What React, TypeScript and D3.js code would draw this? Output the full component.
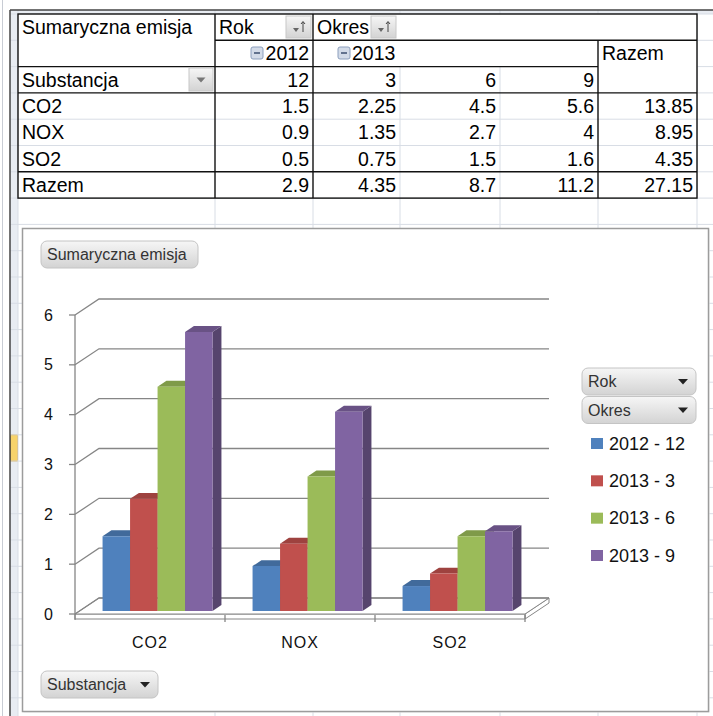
import * as d3 from 'd3';

// ── pivot data ──
const categories = ['CO2', 'NOX', 'SO2'];
const seriesLabels = ['2012 - 12', '2013 - 3', '2013 - 6', '2013 - 9'];
const periodLabels = ['12', '3', '6', '9'];
const s2012_12 = [1.5, 0.9, 0.5];
const s2013_3 = [2.25, 1.35, 0.75];
const s2013_6 = [4.5, 2.7, 1.5];
const s2013_9 = [5.6, 4, 1.6];
const rowTotals = [13.85, 8.95, 4.35];
const colTotals = [2.9, 4.35, 8.7, 11.2];
const grandTotal = 27.15;
const yTicks = [0, 1, 2, 3, 4, 5, 6];
const seriesColors = ['#4f81bd', '#c0504d', '#9bbb59', '#8064a2'];

const seriesValues = [s2012_12, s2013_3, s2013_6, s2013_9];

const W = 713, H = 716;
const FONT = '"Liberation Sans", Arial, sans-serif';

// sheet geometry
const colEdges = [18, 215, 313, 400, 500, 598, 697];
const rowTop = 14, rowH = 26.3;
const ry = (i: number) => rowTop + i * rowH;

// 3d depth offsets
const DX = 24, DY = 16;
const Z0 = 0.19, Z1 = 0.56;

function shade(c: string, k: number) {
  return d3.color(c)!.darker(k).formatHex();
}

function FieldButton({ x, y, w, h, label, arrow }: { x: number; y: number; w: number; h: number; label: string; arrow?: boolean }) {
  return (
    <g>
      <rect x={x} y={y} width={w} height={h} rx={6} fill="url(#btnGrad)" stroke="#c4c4c4" />
      <text x={x + 6} y={y + h / 2 + 5.5} fontSize={16} fill="#333">{label}</text>
      {arrow && (
        <path d={`M${x + w - 18},${y + h / 2 - 2.5}h10l-5,5.5z`} fill="#222" />
      )}
    </g>
  );
}

function SortButton({ x, y }: { x: number; y: number }) {
  return (
    <g>
      <rect x={x} y={y} width={25} height={22} fill="url(#btnGrad)" stroke="#c8c8c8" />
      <path d={`M${x + 7},${y + 12}h6l-3,4z`} fill="#666" />
      <path d={`M${x + 17},${y + 16}v-10M${x + 15},${y + 8}l2,-2.5l2,2.5`} stroke="#444" strokeWidth={1} fill="none" />
    </g>
  );
}

function MinusBox({ x, y }: { x: number; y: number }) {
  return (
    <g>
      <rect x={x} y={y} width={12} height={12} rx={2} fill="#d3dbe8" stroke="#8c9fbd" />
      <line x1={x + 3} x2={x + 9} y1={y + 6} y2={y + 6} stroke="#3d4f70" strokeWidth={1.5} />
    </g>
  );
}

function PivotTable() {
  const txt = (s: string | number, x: number, row: number, anchor = 'start') => (
    <text x={x} y={ry(row) + 20} textAnchor={anchor} fontSize={19.5}>{String(s)}</text>
  );
  const right = (ci: number) => colEdges[ci + 1] - 4;
  const dark = '#111';
  return (
    <g>
      <rect x={18} y={14} width={679} height={ry(7) - 14} fill="#fff" />
      {/* inner light lines */}
      {[4, 5].map(r => (
        <line key={r} x1={18} x2={697} y1={ry(r)} y2={ry(r)} stroke="#d8dde5" />
      ))}
      {[400, 500].map(x => (
        <line key={x} x1={x} x2={x} y1={ry(2)} y2={ry(7)} stroke="#d8dde5" />
      ))}
      {/* dark borders */}
      <g stroke={dark} strokeWidth={1.4}>
        <rect x={18} y={14} width={679} height={ry(7) - 14} fill="none" />
        <line x1={215} x2={697} y1={ry(1)} y2={ry(1)} />
        <line x1={18} x2={598} y1={ry(2)} y2={ry(2)} />
        <line x1={18} x2={697} y1={ry(3)} y2={ry(3)} />
        <line x1={18} x2={697} y1={ry(6)} y2={ry(6)} />
        <line x1={215} x2={215} y1={14} y2={ry(7)} />
        <line x1={313} x2={313} y1={14} y2={ry(7)} />
        <line x1={598} x2={598} y1={ry(1)} y2={ry(7)} />
      </g>
      {txt('Sumaryczna emisja', 22, 0)}
      {txt('Rok', 219, 0)}
      <SortButton x={286} y={16} />
      {txt('Okres', 317, 0)}
      <SortButton x={371} y={16} />
      <MinusBox x={251} y={47} />
      {txt('2012', right(1), 1, 'end')}
      <MinusBox x={338} y={47} />
      {txt('2013', 352, 1)}
      {txt('Razem', 602, 1)}
      {txt('Substancja', 22, 2)}
      <rect x={189} y={68} width={24} height={23} fill="url(#btnGrad)" stroke="#c8c8c8" />
      <path d="M196.5,77.5h9l-4.5,5z" fill="#777" />
      {periodLabels.map((p, i) => <g key={p}>{txt(p, right(i + 1), 2, 'end')}</g>)}
      {categories.map((c, ci) => (
        <g key={c}>
          {txt(c, 22, 3 + ci)}
          {seriesValues.map((s, si) => <g key={si}>{txt(s[ci], right(si + 1), 3 + ci, 'end')}</g>)}
          {txt(rowTotals[ci], right(5), 3 + ci, 'end')}
        </g>
      ))}
      {txt('Razem', 22, 6)}
      {colTotals.map((t, i) => <g key={i}>{txt(t, right(i + 1), 6, 'end')}</g>)}
      {txt(grandTotal, right(5), 6, 'end')}
    </g>
  );
}

function Chart() {
  const y = d3.scaleLinear().domain([0, 6]).range([614, 315]);
  const xCat = d3.scaleBand<string>().domain(categories).range([75, 525]).padding(0);
  const xSer = d3.scaleBand<number>().domain(d3.range(seriesLabels.length)).range([23, 133]).padding(0);
  const P = (x: number, v: number, z: number) => [x + z * DX, y(v) - z * DY];
  const pts = (arr: number[][]) => arr.map(p => p.join(',')).join(' ');

  const x0 = xCat.range()[0], x1 = xCat.range()[1];
  const grid = '#868686';

  const bars: JSX.Element[] = [];
  categories.forEach((c, ci) => {
    seriesValues.forEach((s, si) => {
      const v = s[ci];
      const bx0 = xCat(c)! + xSer(si)!;
      const bx1 = bx0 + xSer.bandwidth();
      const col = seriesColors[si];
      const fTL = P(bx0, v, Z0), fTR = P(bx1, v, Z0), fBR = P(bx1, 0, Z0), fBL = P(bx0, 0, Z0);
      const bTL = P(bx0, v, Z1), bTR = P(bx1, v, Z1), bBR = P(bx1, 0, Z1);
      bars.push(
        <g key={`${c}-${si}`}>
          <polygon points={pts([fTR, bTR, bBR, fBR])} fill={shade(col, 1.1)} />
          <polygon points={pts([fTL, fTR, bTR, bTL])} fill={shade(col, 0.55)} />
          <polygon points={pts([fTL, fTR, fBR, fBL])} fill={col} />
        </g>
      );
    });
  });

  const legendY = d3.scalePoint<string>().domain(seriesLabels).range([443, 555]);

  return (
    <g>
      <rect x={23.5} y={229.5} width={686} height={483} fill="#ececec" />
      <rect x={22.5} y={228.5} width={686} height={483} fill="#fff" stroke="#9c9c9c" strokeWidth={1.5} />
      <FieldButton x={41} y={241} w={157} h={27} label="Sumaryczna emisja" />

      {/* floor plate */}
      <polygon points={pts([P(x1, 0, 0), P(x1, 0, 1), [x1 + DX, y(0) - DY + 5], [x1, y(0) + 5]])} fill="#fff" stroke={grid} strokeWidth={1} />
      <polygon points={pts([P(x0, 0, 0), P(x1, 0, 0), [x1, y(0) + 5], [x0, y(0) + 5]])} fill="#fff" stroke={grid} strokeWidth={1} />
      <polygon points={pts([P(x0, 0, 0), P(x1, 0, 0), P(x1, 0, 1), P(x0, 0, 1)])} fill="#fff" stroke={grid} strokeWidth={1} />

      {/* walls gridlines */}
      {yTicks.map(t => (
        <g key={t}>
          <polyline points={pts([P(x0, t, 0), P(x0, t, 1), P(x1, t, 1)])} fill="none" stroke={grid} strokeWidth={1.3} />
          <line x1={x0 - 6} x2={x0} y1={y(t)} y2={y(t)} stroke={grid} strokeWidth={1.3} />
          <text x={53} y={y(t) + 5.5} textAnchor="end" fontSize={16} fill="#111">{t}</text>
        </g>
      ))}
      <line x1={x0} x2={x0} y1={y(6)} y2={y(0) + 6} stroke={grid} strokeWidth={1.3} />
      {xCat.domain().map(c => (
        <line key={c} x1={xCat(c)! + xCat.bandwidth()} x2={xCat(c)! + xCat.bandwidth()} y1={y(0) + 1} y2={y(0) + 8} stroke={grid} strokeWidth={1.3} />
      ))}

      {bars}

      {categories.map(c => (
        <text key={c} x={xCat(c)! + xCat.bandwidth() / 2} y={648} textAnchor="middle" fontSize={16} letterSpacing={1} fill="#111">{c}</text>
      ))}

      {/* legend */}
      <FieldButton x={582} y={368} w={114} h={27} label="Rok" arrow />
      <FieldButton x={582} y={396.5} w={114} h={27} label="Okres" arrow />
      {seriesLabels.map((s, i) => (
        <g key={s}>
          <rect x={591} y={legendY(s)! - 5} width={12} height={11} fill={seriesColors[i]} />
          <text x={609} y={legendY(s)! + 6.5} fontSize={18} fill="#111">{s}</text>
        </g>
      ))}

      <FieldButton x={41} y={671} w={117} h={27} label="Substancja" arrow />
    </g>
  );
}

export default function App() {
  const rows = d3.range(0, 28).map(ry);
  return (
    <svg width={W} height={H} style={{ position: 'absolute', left: 0, top: 0, fontFamily: FONT }}>
      <defs>
        <linearGradient id="btnGrad" x1="0" y1="0" x2="0" y2="1">
          <stop offset="0" stopColor="#f6f6f6" />
          <stop offset="1" stopColor="#d3d3d3" />
        </linearGradient>
      </defs>
      <rect width={W} height={H} fill="#fff" />
      {/* row header strip + column header strip */}
      <rect x={10} y={10} width={8} height={H - 10} fill="#e8ecf2" />
      <rect x={10} y={10} width={W - 10} height={4} fill="#e8ecf2" />
      <rect x={10.5} y={ry(16)} width={7} height={rowH} fill="#f7d36b" stroke="#e0ab3a" />
      {/* sheet gridlines */}
      {rows.map((r, i) => (
        <line key={i} x1={10} x2={W} y1={r} y2={r} stroke="#d8dde5" />
      ))}
      {colEdges.map(x => (
        <line key={x} x1={x} x2={x} y1={10} y2={H} stroke="#d8dde5" />
      ))}
      <line x1={2.5} x2={2.5} y1={0} y2={H} stroke="#c8ccd4" />
      <line x1={10} x2={10} y1={10} y2={H} stroke="#444" strokeWidth={1.5} />
      <line x1={10} x2={W} y1={10} y2={10} stroke="#444" strokeWidth={1.5} />

      <PivotTable />
      <Chart />
    </svg>
  );
}
